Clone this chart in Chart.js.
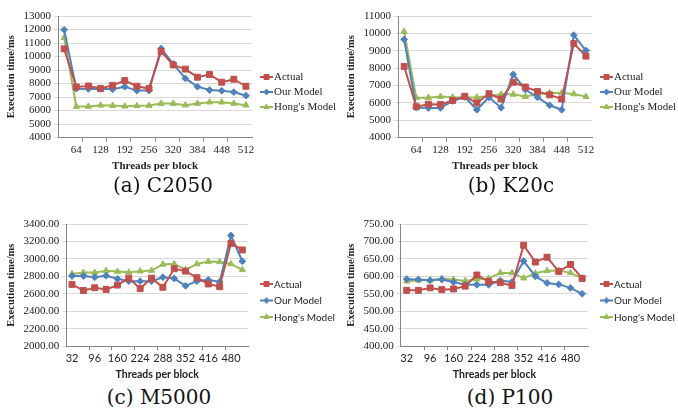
<!DOCTYPE html>
<html>
<head>
<meta charset="utf-8">
<script src="https://cdn.jsdelivr.net/npm/chart.js@4.4.1/dist/chart.umd.min.js"></script>
<style>
  body { margin: 0; background: #fff; width: 678px; height: 410px; position: relative; overflow: hidden; }
  .panel { position: absolute; width: 338px; height: 176px; }
  .caption { position: absolute; width: 200px; text-align: center; font-family: "DejaVu Serif", serif; font-size: 20px; color: #111; }
</style>
</head>
<body>
<div class="panel" style="left:0;top:0"><canvas id="chartA" width="338" height="176"></canvas></div>
<div class="panel" style="left:340px;top:0"><canvas id="chartB" width="338" height="176"></canvas></div>
<div class="panel" style="left:0;top:208px"><canvas id="chartC" width="338" height="176"></canvas></div>
<div class="panel" style="left:340px;top:208px"><canvas id="chartD" width="338" height="176"></canvas></div>
<div class="caption" style="left:63px;top:173px">(a) C2050</div>
<div class="caption" style="left:411px;top:173px">(b) K20c</div>
<div class="caption" style="left:59px;top:385px">(c) M5000</div>
<div class="caption" style="left:410px;top:385px">(d) P100</div>

<script>
// Threads per block (x categories)
const threads = [32, 64, 96, 128, 160, 192, 224, 256, 288, 320, 352, 384, 416, 448, 480, 512];
const seriesNames = ["Actual", "Our Model", "Hong's Model"];

// (a) C2050
const c2050Actual = [10570, 7750, 7820, 7630, 7870, 8220, 7800, 7630, 10370, 9380, 9070, 8470, 8670, 8100, 8320, 7800];
const c2050Ours   = [11980, 7620, 7600, 7620, 7580, 7770, 7480, 7480, 10590, 9450, 8380, 7770, 7520, 7470, 7370, 7100];
const c2050Hong   = [11400, 6300, 6300, 6390, 6370, 6320, 6350, 6370, 6520, 6520, 6400, 6520, 6620, 6620, 6520, 6400];

// (b) K20c
const k20cActual = [8100, 5780, 5920, 5900, 6140, 6380, 6000, 6530, 6220, 7190, 6910, 6660, 6460, 6220, 9410, 8690];
const k20cOurs   = [9650, 5730, 5710, 5710, 6110, 6340, 5600, 6320, 5720, 7640, 6770, 6320, 5860, 5600, 9900, 9010];
const k20cHong   = [10100, 6300, 6300, 6360, 6330, 6300, 6320, 6380, 6490, 6490, 6360, 6500, 6570, 6570, 6510, 6360];

// (c) M5000
const m5000Actual = [2708, 2638, 2670, 2650, 2700, 2780, 2660, 2780, 2675, 2887, 2860, 2785, 2713, 2682, 3178, 3103];
const m5000Ours   = [2804, 2804, 2790, 2808, 2772, 2745, 2745, 2745, 2790, 2776, 2692, 2745, 2760, 2737, 3268, 2973];
const m5000Hong   = [2828, 2843, 2843, 2865, 2855, 2847, 2859, 2867, 2938, 2942, 2875, 2942, 2970, 2967, 2942, 2875];

// (d) P100
const p100Actual = [560, 560, 567, 562, 564, 572, 604, 585, 582, 574, 689, 641, 655, 614, 634, 594];
const p100Ours   = [592, 591, 589, 591, 584, 576, 576, 576, 588, 584, 644, 600, 581, 577, 567, 550];
const p100Hong   = [586, 589, 589, 594, 591, 587, 592, 594, 610, 610, 595, 609, 616, 617, 610, 595];

const colors = ["#C0504D", "#4F81BD", "#9BBB59"];
const markers = ["rect", "rectRot", "triangle"];
const markerSize = [4.2, 3.4, 3.6];

const serif = "'Liberation Serif', 'Times New Roman', serif";
const sans = "Lato, 'Liberation Sans', sans-serif";

// little line+marker icon for the legend
function legendIcon(i) {
  const c = document.createElement("canvas");
  c.width = 13; c.height = 10;
  const g = c.getContext("2d");
  g.strokeStyle = colors[i];
  g.lineWidth = 2;
  g.beginPath(); g.moveTo(0, 5); g.lineTo(13, 5); g.stroke();
  g.fillStyle = colors[i];
  g.lineWidth = 1;
  Chart.helpers.drawPoint(g, { pointStyle: markers[i], radius: markerSize[i] * 0.85, rotation: 0, borderWidth: 1 }, 6.5, 5);
  return c;
}

// legend drawn to the right of the plot, Excel style (line + marker, then the name)
const lineLegend = {
  id: "lineLegend",
  afterDraw(chart, args, opts) {
    const g = chart.ctx;
    g.save();
    g.font = opts.font;
    g.fillStyle = "#222";
    g.textBaseline = "middle";
    chart.data.datasets.forEach((ds, i) => {
      const y = opts.y + i * opts.gap;
      g.drawImage(legendIcon(i), opts.x, y - 5);
      g.fillText(ds.label, opts.x + 14, y + 0.5);
    });
    g.restore();
  },
};

function makeChart(id, series, yMin, yMax, yStep, decimals, oddLabels, xFont) {
  const ctx = document.getElementById(id).getContext("2d");
  const isSans = xFont === "sans";
  return new Chart(ctx, {
    type: "line",
    data: {
      labels: threads,
      datasets: series.map((d, i) => ({
        label: seriesNames[i],
        data: d,
        borderColor: colors[i],
        backgroundColor: colors[i],
        borderWidth: 2,
        pointStyle: markers[i],
        pointRadius: markerSize[i],
        pointBorderWidth: 1,
        tension: 0,
        fill: false,
      })),
    },
    plugins: [lineLegend],
    options: {
      animation: false,
      responsive: false,
      layout: { padding: { left: 1, top: 16, right: isSans ? 90 : 86, bottom: 3 } },
      plugins: {
        tooltip: { enabled: false },
        legend: { display: false },
        lineLegend: {
          x: 260,
          y: isSans ? 76 : 77,
          gap: isSans ? 16.5 : 15,
          font: isSans ? "10px " + sans : "11px " + serif,
        },
      },
      scales: {
        x: {
          offset: true,
          border: { color: "#868686", width: 1 },
          grid: {
            offset: true,
            drawOnChartArea: false,
            tickLength: 4,
            color: (c) => (c.index % 2 === 0 && c.index > 0 ? "#868686" : "rgba(0,0,0,0)"),
          },
          ticks: {
            autoSkip: false,
            maxRotation: 0,
            padding: 2,
            color: "#222",
            font: { family: isSans ? sans : serif, size: 11 },
            callback: (v, i) => ((oddLabels ? i % 2 === 1 : i % 2 === 0 && i < 15) ? threads[i] : ""),
          },
          title: {
            display: true,
            text: "Threads per block",
            color: "#222",
            padding: { top: 1, bottom: 0 },
            font: { family: isSans ? sans : serif, size: isSans ? 10.5 : 11, weight: "bold" },
          },
        },
        y: {
          min: yMin,
          max: yMax,
          border: { color: "#868686", width: 1 },
          grid: { color: "#d9d9d9", tickLength: 4 },
          ticks: {
            stepSize: yStep,
            autoSkip: false,
            padding: 3,
            color: "#222",
            font: { family: serif, size: 11 },
            callback: (v) => v.toFixed(decimals),
          },
          title: {
            display: true,
            text: "Execution time/ms",
            color: "#222",
            padding: { top: 4, bottom: 3 },
            font: { family: serif, size: 10.5, weight: "bold" },
          },
        },
      },
    },
  });
}

makeChart("chartA", [c2050Actual, c2050Ours, c2050Hong], 4000, 13000, 1000, 0, true, "serif");
makeChart("chartB", [k20cActual, k20cOurs, k20cHong], 4000, 11000, 1000, 0, true, "serif");
makeChart("chartC", [m5000Actual, m5000Ours, m5000Hong], 2000, 3400, 200, 2, false, "sans");
makeChart("chartD", [p100Actual, p100Ours, p100Hong], 400, 750, 50, 2, false, "sans");
</script>
</body>
</html>
